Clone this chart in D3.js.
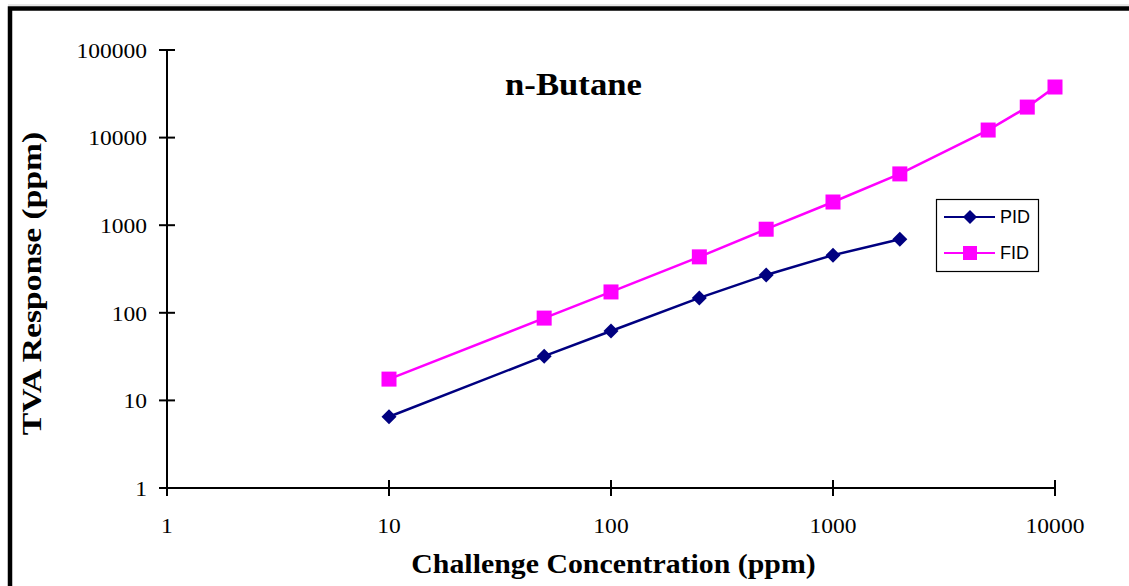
<!DOCTYPE html>
<html>
<head>
<meta charset="utf-8">
<script src="https://cdn.jsdelivr.net/npm/d3@7"></script>
<style>
  html, body { margin: 0; padding: 0; background: #fff; }
  svg { display: block; }
</style>
</head>
<body>
<svg id="chart" width="1129" height="586"></svg>
<script>
const concentrations = [10, 50, 100, 250, 500, 1000, 2000, 5000, 7500, 10000];
const pidConc = [10, 50, 100, 250, 500, 1000, 2000];
const pidValues = [6.5, 32, 62, 148, 270, 455, 690];
const fidConc = [10, 50, 100, 250, 500, 1000, 2000, 5000, 7500, 10000];
const fidValues = [17.5, 87, 173, 435, 900, 1840, 3850, 12200, 22300, 37800];
const xTicks = [1, 10, 100, 1000, 10000];
const yTicks = [1, 10, 100, 1000, 10000, 100000];
const seriesNames = ["PID", "FID"];
const seriesColors = ["#000080", "#FF00FF"];

const svg = d3.select("#chart");
const W = 1129, H = 586;

// frame
svg.append("line").attr("x1", 8).attr("x2", W).attr("y1", 5).attr("y2", 5)
  .attr("stroke", "#ccc").attr("stroke-width", 1);
svg.append("path").attr("d", `M10,${H} L10,8.5 L${W},8.5`)
  .attr("fill", "none").attr("stroke", "#000").attr("stroke-width", 4.5);

const x = d3.scaleLog().domain([1, 10000]).range([167, 1055]);
const y = d3.scaleLog().domain([1, 100000]).range([488, 50]);

const serif = "'Liberation Serif', 'Times New Roman', serif";
const sans = "'Liberation Sans', Arial, sans-serif";
const SX = 1.07;

// Y axis
const yAxis = svg.append("g").attr("transform", "translate(167,0)");
yAxis.append("line").attr("x1", 0).attr("x2", 0).attr("y1", y(100000)).attr("y2", y(1))
  .attr("stroke", "#000").attr("stroke-width", 2);
yAxis.selectAll("line.tick").data(yTicks).enter().append("line")
  .attr("class", "tick").attr("x1", -8).attr("x2", 8)
  .attr("y1", d => y(d)).attr("y2", d => y(d))
  .attr("stroke", "#000").attr("stroke-width", 2);
yAxis.selectAll("text").data(yTicks).enter().append("text")
  .attr("transform", d => `translate(-20,${y(d)}) scale(${SX},1)`)
  .attr("dy", "0.35em")
  .attr("text-anchor", "end").attr("font-family", serif).attr("font-size", 22)
  .text(d => d);

// X axis
const xAxis = svg.append("g").attr("transform", "translate(0,488)");
xAxis.append("line").attr("x1", x(1)).attr("x2", x(10000)).attr("y1", 0).attr("y2", 0)
  .attr("stroke", "#000").attr("stroke-width", 2);
xAxis.selectAll("line.tick").data(xTicks).enter().append("line")
  .attr("class", "tick").attr("y1", -8).attr("y2", 8)
  .attr("x1", d => x(d)).attr("x2", d => x(d))
  .attr("stroke", "#000").attr("stroke-width", 2);
xAxis.selectAll("text").data(xTicks).enter().append("text")
  .attr("transform", d => `translate(${x(d)},45) scale(${SX},1)`)
  .attr("text-anchor", "middle").attr("font-family", serif).attr("font-size", 22)
  .text(d => d);

// titles
svg.append("text").attr("transform", "translate(573.5,95) scale(1.12,1)")
  .attr("text-anchor", "middle")
  .attr("font-family", serif).attr("font-weight", "bold").attr("font-size", 31)
  .text("n-Butane");
svg.append("text").attr("transform", "translate(613.5,573) scale(1.066,1)")
  .attr("text-anchor", "middle")
  .attr("font-family", serif).attr("font-weight", "bold").attr("font-size", 28)
  .text("Challenge Concentration (ppm)");
svg.append("text").attr("transform", "translate(41,283.5) rotate(-90) scale(1.2,1)")
  .attr("text-anchor", "middle")
  .attr("font-family", serif).attr("font-weight", "bold").attr("font-size", 28)
  .text("TVA Response (ppm)");

// series
const line = d3.line().x(d => x(d[0])).y(d => y(d[1]));
const pid = pidConc.map((c, i) => [c, pidValues[i]]);
const fid = fidConc.map((c, i) => [c, fidValues[i]]);

svg.append("path").datum(pid).attr("d", line).attr("fill", "none")
  .attr("stroke", seriesColors[0]).attr("stroke-width", 2.5);
svg.append("path").datum(fid).attr("d", line).attr("fill", "none")
  .attr("stroke", seriesColors[1]).attr("stroke-width", 2.5);

const diamond = (cx, cy, r) => `M${cx},${cy - r}L${cx + r},${cy}L${cx},${cy + r}L${cx - r},${cy}Z`;
svg.selectAll("path.pid").data(pid).enter().append("path").attr("class", "pid")
  .attr("d", d => diamond(x(d[0]), y(d[1]), 7.5)).attr("fill", seriesColors[0]);
svg.selectAll("rect.fid").data(fid).enter().append("rect").attr("class", "fid")
  .attr("x", d => x(d[0]) - 7.5).attr("y", d => y(d[1]) - 7.5)
  .attr("width", 15).attr("height", 15).attr("fill", seriesColors[1]);

// legend
const lg = svg.append("g");
lg.append("rect").attr("x", 936.5).attr("y", 199.5).attr("width", 102).attr("height", 72)
  .attr("fill", "#fff").attr("stroke", "#000").attr("stroke-width", 1.2);
[0, 1].forEach(i => {
  const cy = 217 + i * 36;
  lg.append("line").attr("x1", 944).attr("x2", 995).attr("y1", cy).attr("y2", cy)
    .attr("stroke", seriesColors[i]).attr("stroke-width", 2);
  if (i === 0) {
    lg.append("path").attr("d", diamond(970, cy, 7)).attr("fill", seriesColors[0]);
  } else {
    lg.append("rect").attr("x", 963).attr("y", cy - 7).attr("width", 14).attr("height", 14)
      .attr("fill", seriesColors[1]);
  }
  lg.append("text").attr("x", 1000).attr("y", cy).attr("dy", "0.36em")
    .attr("font-family", sans).attr("font-size", 18).text(seriesNames[i]);
});
</script>
</body>
</html>
